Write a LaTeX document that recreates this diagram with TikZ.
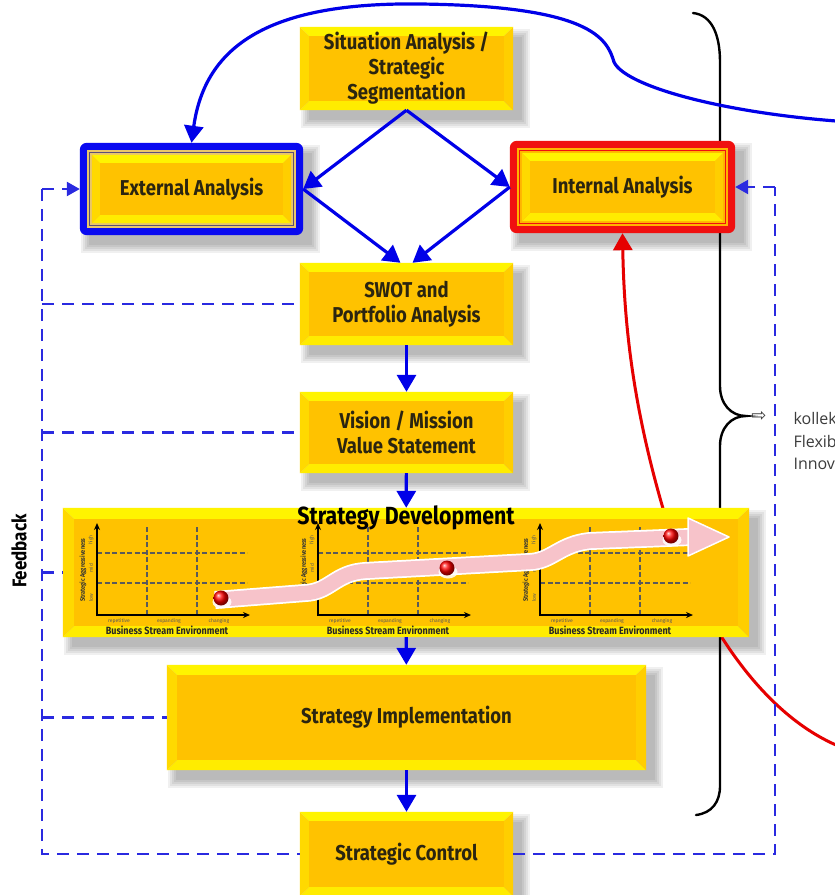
\documentclass[tikz,border=0pt]{standalone}
\usepackage{fontspec}
\setmainfont{Fira Sans}
\newfontfamily\condfont[FakeStretch=0.86]{Fira Sans}
\newfontfamily\symfont{DejaVu Sans}
\newfontfamily\notefont{Open Sans}
\usetikzlibrary{calc,arrows.meta}

\pgfdeclarelayer{shadelayer}
\pgfdeclarelayer{under}
\pgfdeclarelayer{boxlayer}
\pgfsetlayers{shadelayer,under,boxlayer,main}

\definecolor{flowblue}{HTML}{0000E8}
\definecolor{fbblue}{HTML}{2A2AE0}
\definecolor{redflow}{HTML}{E60000}
\definecolor{facetop}{HTML}{FFF400}
\definecolor{facebot}{HTML}{FFEC00}
\definecolor{faceleft}{HTML}{FFD900}
\definecolor{faceright}{HTML}{FFCE00}
\definecolor{facemid}{HTML}{FFC200}
\definecolor{labelink}{HTML}{2B2510}
\definecolor{extblue}{HTML}{0A0AF0}
\definecolor{extband}{HTML}{E9C66A}
\definecolor{extline}{HTML}{5A4E7A}
\definecolor{intred}{HTML}{F01010}
\definecolor{intband}{HTML}{FFB400}
\definecolor{gridcol}{HTML}{5A5A5A}
\definecolor{pinkband}{HTML}{F7C3CA}
\definecolor{notegray}{HTML}{3C3C3C}

% soft shadow below and to the right of a box
\newcommand\dropshade[2]{%
  \foreach \k in {0,2,4,6,8}{%
    \fill[black,opacity=0.06] ($(#1)+(9-\k,10-\k)$) rectangle ($(#2)+(9+\k,10+\k)$);
  }}

% bevelled yellow panel between two corners, #3 = bevel depth
\newcommand\bevelbox[3]{%
  \path (#1) coordinate (bv-nw) (#2) coordinate (bv-se);
  \path (bv-nw -| bv-se) coordinate (bv-ne) (bv-se -| bv-nw) coordinate (bv-sw);
  \path ($(bv-nw)+(#3,#3)$) coordinate (bi-nw) ($(bv-ne)+(-#3,#3)$) coordinate (bi-ne)
        ($(bv-se)+(-#3,-#3)$) coordinate (bi-se) ($(bv-sw)+(#3,-#3)$) coordinate (bi-sw);
  \fill[facetop] (bv-nw) -- (bv-ne) -- (bi-ne) -- (bi-nw) -- cycle;
  \fill[facebot] (bv-sw) -- (bv-se) -- (bi-se) -- (bi-sw) -- cycle;
  \fill[faceleft] (bv-nw) -- (bi-nw) -- (bi-sw) -- (bv-sw) -- cycle;
  \fill[faceright] (bv-ne) -- (bi-ne) -- (bi-se) -- (bv-se) -- cycle;
  \fill[facemid] (bi-nw) rectangle (bi-se);
}

% small positioning chart, #1 = x of the vertical axis
\newcommand\minichart[1]{%
  \draw[gridcol, line width=1.3pt, dash pattern=on 5pt off 2.5pt]
    (#1+50,527) -- (#1+50,615) (#1+100,527) -- (#1+100,615)
    (#1,553) -- (#1+150,553) (#1,583) -- (#1+150,583);
  \draw[line width=2.4pt, -{Stealth[length=7pt,width=6pt]}] (#1,616) -- (#1,523);
  \draw[line width=2.4pt, -{Stealth[length=7pt,width=6pt]}] (#1-1,615) -- (#1+153,615);
  \node[font=\fontsize{5}{5}\selectfont, text=gridcol] at (#1+22,621) {repetitive};
  \node[font=\fontsize{5}{5}\selectfont, text=gridcol] at (#1+72,621) {expanding};
  \node[font=\fontsize{5}{5}\selectfont, text=gridcol] at (#1+122,621) {changing};
  \node[font=\condfont\bfseries\fontsize{10.5}{11}\selectfont, text=black!85] at (#1+70,630) {Business Stream Environment};
  \node[rotate=90, font=\condfont\bfseries\fontsize{6.5}{7}\selectfont, text=black!80] at (#1-14,570) {Strategic Aggressiveness};
  \node[rotate=90, font=\fontsize{5}{5}\selectfont, text=gridcol] at (#1-6,540) {high};
  \node[rotate=90, font=\fontsize{5}{5}\selectfont, text=gridcol] at (#1-6,568) {mid};
  \node[rotate=90, font=\fontsize{5}{5}\selectfont, text=gridcol] at (#1-6,598) {low};
}

% position marker on a chart
\newcommand\marker[2]{%
  \fill[white, opacity=0.85] (#1+1,#2+4) ellipse (9.5 and 6.5);
  \shade[ball color=red] (#1,#2) circle (7.5);
}

\begin{document}
\begin{tikzpicture}[x=1pt,y=-1pt,
  stage/.style={inner sep=0pt, align=center, text=labelink,
    font=\condfont\bfseries\fontsize{21.5}{25}\selectfont},
  flow/.style={draw=flowblue, line width=3.2pt, -{Triangle[length=17pt,width=19pt]}},
  redline/.style={draw=redflow, line width=3pt, -{Triangle[length=17pt,width=19pt]}},
  fbline/.style={draw=fbblue, line width=2.4pt, dash pattern=on 12pt off 8pt},
  fbarrow/.style={fbline, -{Triangle[length=13pt,width=14pt]}},
  bracepen/.style={draw=black, line width=2.4pt, line cap=round},
  notetext/.style={anchor=base west, text=notegray, font=\notefont\fontsize{16}{16}\selectfont}]

\useasboundingbox (0,0) rectangle (835,895);

% stages
\node[stage, minimum width=213pt, minimum height=83pt] (sit) at (406.5,68.5) {Situation Analysis /\\Strategic\\Segmentation};
\node[stage, minimum width=223pt, minimum height=92pt] (ext) at (191.5,189) {External Analysis};
\node[stage, minimum width=225pt, minimum height=92pt] (int) at (622.5,187) {Internal Analysis};
\node[stage, minimum width=213pt, minimum height=82pt] (swot) at (406.5,304) {SWOT and\\Portfolio Analysis};
\node[stage, minimum width=213pt, minimum height=81pt] (vis) at (406.5,432.5) {Vision / Mission\\Value Statement};
\node[stage, minimum width=686pt, minimum height=129pt] (dev) at (406,572.5) {};
\node[stage, minimum width=479pt, minimum height=105pt] (impl) at (406.5,717.5) {Strategy Implementation};
\node[stage, minimum width=213pt, minimum height=84pt] (ctrl) at (406.5,854) {Strategic Control};

\node[font=\condfont\bfseries\fontsize{24.8}{25}\selectfont, text=black] (devtitle) at (406,518) {Strategy Development};
\node[rotate=90, font=\condfont\bfseries\fontsize{19.8}{20}\selectfont, text=black] (fblabel) at (19,551) {Feedback};

\node[font=\symfont\fontsize{18}{18}\selectfont, text=notegray] (hollow) at (759,416) {⇨};
\node[notetext] (note1) at (790,424) {kollek};
\node[notetext] (note2) at (790,447) {Flexib};
\node[notetext] (note3) at (790,469) {Innov};

\coordinate (fbx) at (42,0);
\coordinate (fbr) at (775,0);
\coordinate (blueend) at (836,121);
\coordinate (redend) at (836,745);
\coordinate (redbend) at (662,505);
\coordinate (bracetop) at (693,13);
\coordinate (bracetip) at (746,416);
\coordinate (bracebot) at (696,815);

% shadows
\begin{pgfonlayer}{shadelayer}
  \fill[white] (0,0) rectangle (835,895);
  \foreach \n in {sit,ext,int,swot,vis,dev,impl,ctrl}{\dropshade{\n.north west}{\n.south east}}
\end{pgfonlayer}

% red return path and the brace run behind the panels
\begin{pgfonlayer}{under}
  \draw[redline] (redend) .. controls (745,705) and (685,585) .. (redbend)
    .. controls (632,401) and (624,320) .. (int.south);
  \draw[bracepen] (bracetop) .. controls (712,15) and (720,35) .. (720,62) -- (720,386)
    .. controls (720,404) and (731,416) .. (bracetip)
    .. controls (731,416) and (720,428) .. (720,446) -- (720,786)
    .. controls (720,802) and (712,813) .. (bracebot);
\end{pgfonlayer}

% panels
\begin{pgfonlayer}{boxlayer}
  \foreach \n/\d in {sit/9,swot/9,vis/9,dev/11,impl/10,ctrl/9}{\bevelbox{\n.north west}{\n.south east}{\d}}
  % external analysis frame
  \fill[extblue, rounded corners=7pt] (ext.north west) rectangle (ext.south east);
  \fill[extband] ($(ext.north west)+(7,7)$) rectangle ($(ext.south east)+(-7,-7)$);
  \draw[extline, line width=1.2pt] ($(ext.north west)+(10,10)$) rectangle ($(ext.south east)+(-10,-10)$);
  \bevelbox{$(ext.north west)+(12,12)$}{$(ext.south east)+(-12,-12)$}{8}
  % internal analysis frame
  \fill[intred, rounded corners=7pt] (int.north west) rectangle (int.south east);
  \fill[intband] ($(int.north west)+(7,7)$) rectangle ($(int.south east)+(-7,-7)$);
  \draw[intred, line width=1.2pt] ($(int.north west)+(10,10)$) rectangle ($(int.south east)+(-10,-10)$);
  \bevelbox{$(int.north west)+(12,12)$}{$(int.south east)+(-12,-12)$}{8}
\end{pgfonlayer}

% charts inside strategy development
\minichart{97}
\minichart{318}
\minichart{540}
\draw[white, line width=18pt] (215,600) -- (305,593) .. controls (330,592) and (335,573) .. (365,571)
  -- (530,562) .. controls (552,561) and (560,544) .. (590,541) -- (690,537);
\draw[pinkband, line width=14.5pt] (215,600) -- (305,593) .. controls (330,592) and (335,573) .. (365,571)
  -- (530,562) .. controls (552,561) and (560,544) .. (590,541) -- (692,537);
\filldraw[fill=pinkband, draw=white, line width=1.5pt, line join=round] (688,518) -- (729,537) -- (688,556) -- cycle;
\marker{221}{598}
\marker{447}{568}
\marker{671}{536}

% main flow
\draw[flow] (sit.south) -- (ext.east);
\draw[flow] (sit.south) -- (int.west);
\draw[flow] (ext.east) -- ([xshift=-6pt]swot.north);
\draw[flow] (int.west) -- ([xshift=6pt]swot.north);
\draw[flow] (swot) -- (vis);
\draw[flow] (vis) -- (dev);
\draw[flow] (dev) -- (impl);
\draw[flow] (impl) -- (ctrl);
\draw[flow] (blueend) .. controls (720,112) and (625,86) .. (614,62)
  .. controls (607,38) and (590,6) .. (420,4)
  .. controls (270,2) and (205,45) .. (ext.north);

% feedback loops
\draw[fbline] (fbx |- ext.west) -- (fbx |- ctrl.west) -- (ctrl.west);
\draw[fbarrow] (fbx |- ext.west) -- (ext.west);
\draw[fbline] (fbx |- swot.west) -- (swot.west);
\draw[fbline] (fbx |- vis.west) -- (vis.west);
\draw[fbline] (fbx |- dev.west) -- (dev.west);
\draw[fbline] (fbx |- impl.west) -- (impl.west);
\draw[fbline] (ctrl.east) -- (fbr |- ctrl.east) -- (fbr |- int.east);
\draw[fbarrow] (fbr |- int.east) -- (int.east);

\end{tikzpicture}
\end{document}
